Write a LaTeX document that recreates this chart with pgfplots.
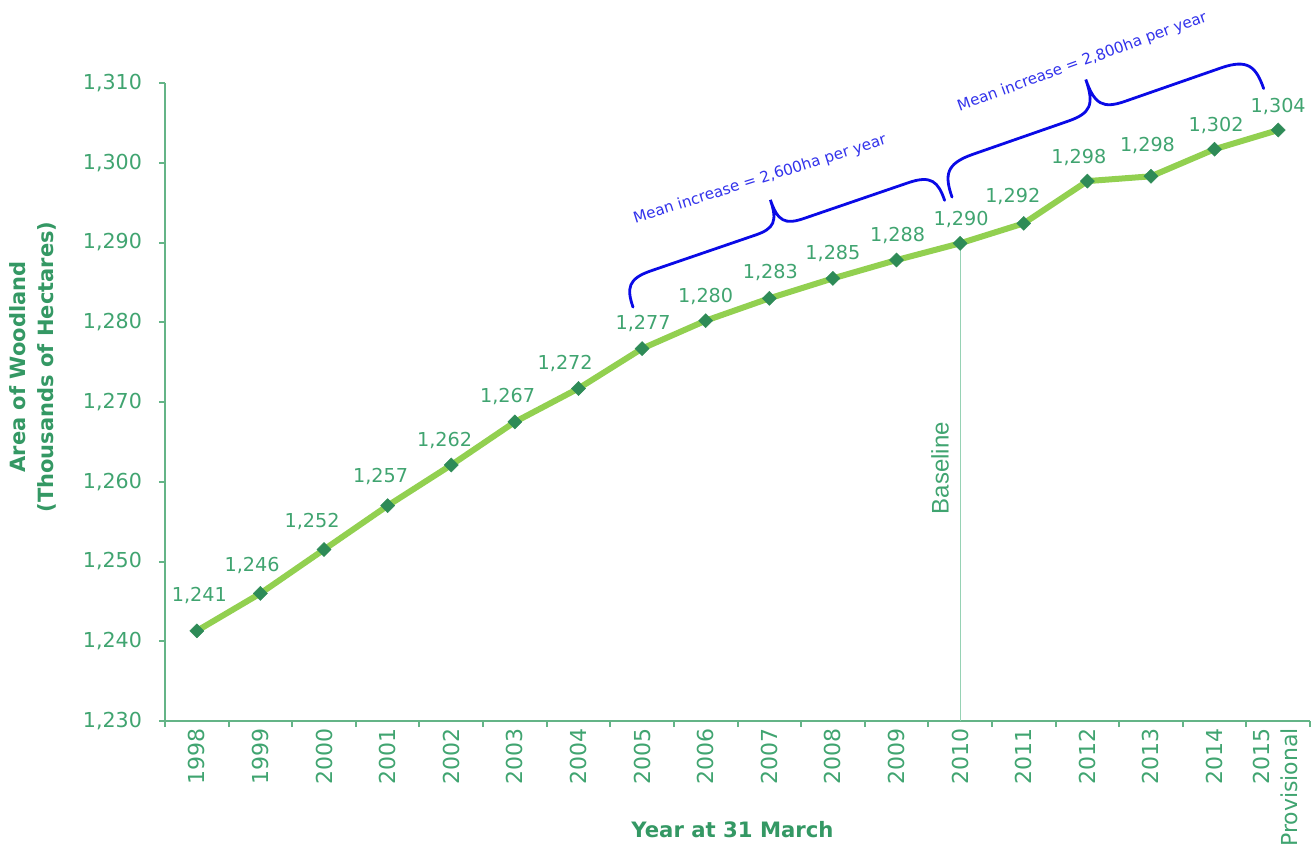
\documentclass[border=0pt]{standalone}
\usepackage{pgfplots}
\pgfplotsset{compat=1.18}
\usepackage{pgfplotstable}
\usepackage{fontspec}
\setmainfont{DejaVu Sans}
\newfontfamily\arialfont{Liberation Sans}
\definecolor{linegreen}{RGB}{146,208,80}
\definecolor{markgreen}{RGB}{46,139,87}
\definecolor{txtgreen}{RGB}{64,164,112}
\definecolor{titlegreen}{RGB}{52,152,100}
\definecolor{axisgreen}{RGB}{100,180,135}
\definecolor{basegreen}{RGB}{150,210,180}
\definecolor{braceblue}{RGB}{10,10,230}
\definecolor{textblue}{RGB}{50,50,235}

\pgfplotstableread{
x y lab dx dy
0 1241.3 1,241 1.25 17.85
1 1246.0 1,246 -4.15 13.75
2 1251.5 1,252 -6 14
3 1257.0 1,257 -3.5 14.5
4 1262.1 1,262 -3.35 12.15
5 1267.5 1,267 -3.65 12.5
6 1271.7 1,272 -6.65 12.5
7 1276.7 1,277 0.5 12.35
8 1280.2 1,280 0 12
9 1283.0 1,283 0.5 13
10 1285.5 1,285 0 12.5
11 1287.8 1,288 0.5 12.5
12 1289.9 1,290 0.5 12
13 1292.4 1,292 -5.5 13.5
14 1297.7 1,298 -4.25 12
15 1298.3 1,298 -1.75 15.5
16 1301.7 1,302 0.75 12
17 1304.1 1,304 0 12
}\woodland

\begin{document}
\begin{tikzpicture}
\path[use as bounding box] (-82.5pt,-65.5pt) rectangle (575pt,360.5pt);
\begin{axis}[
  at={(0,0)}, anchor=south west,
  scale only axis, width=572.5pt, height=319pt,
  xmin=-0.5, xmax=17.5, ymin=1230, ymax=1310,
  clip=false,
  axis x line*=bottom, axis y line*=left,
  axis line style={axisgreen, line width=1pt},
  tick align=outside,
  major tick length=0pt,
  minor tick length=3pt,
  tick style={axisgreen, line width=1pt},
  xtick={0,...,17},
  xticklabels={1998,1999,2000,2001,2002,2003,2004,2005,2006,2007,2008,2009,2010,2011,2012,2013,2014,{\begin{tabular}{@{}r@{}}2015\\Provisional\end{tabular}}},
  minor xtick={-0.5,0.5,...,17.5},
  ytick={1230,1240,...,1310},
  yticklabels={{1,230},{1,240},{1,250},{1,260},{1,270},{1,280},{1,290},{1,300},{1,310}},
  minor ytick={1230,1240,...,1310},
  xticklabel style={rotate=90, anchor=east,
    font=\fontsize{11}{14}\selectfont, text=txtgreen},
  yticklabel style={xshift=-8pt, font=\fontsize{10.3}{12}\selectfont, text=txtgreen},
]
\addplot[basegreen, line width=0.6pt, forget plot] coordinates {(12,1230) (12,1289.9)};

\addplot[linegreen, line width=3pt,
  mark=square*, mark size=2.5pt,
  mark options={rotate=45, draw=markgreen, fill=markgreen, line width=0.2pt},
  nodes near coords, point meta=explicit symbolic,
  visualization depends on={\thisrow{dx} \as \labdx},
  visualization depends on={\thisrow{dy} \as \labdy},
  every node near coord/.append style={anchor=center, xshift=\labdx pt, yshift=\labdy pt,
    font=\fontsize{9.6}{11}\selectfont, text=txtgreen},
] table[x=x, y=y, meta=lab] {\woodland};

\coordinate (b1) at (axis cs:6.857,1281.9);
\coordinate (b2) at (axis cs:11.872,1295.7);

\node[rotate=17.5, text=textblue, font=\fontsize{7.6}{9}\selectfont]
  at (axis cs:8.854,1297.9) {Mean increase = 2,600ha per year};
\node[rotate=20, text=textblue, font=\fontsize{7.6}{9}\selectfont]
  at (axis cs:13.92,1312.6) {Mean increase = 2,800ha per year};

\node[rotate=90, text=txtgreen, font=\arialfont\fontsize{12}{14}\selectfont]
  at (axis cs:11.684,1261.7) {Baseline};

\node[rotate=90, align=center, text=titlegreen, font=\bfseries\fontsize{10.5}{14}\selectfont]
  at ([xshift=-66pt]rel axis cs:0,0.555) {Area of Woodland\\(Thousands of Hectares)};
\node[text=titlegreen, font=\bfseries\fontsize{10.6}{13}\selectfont]
  at ([yshift=-54.5pt]rel axis cs:0.4956,0) {Year at 31 March};
\end{axis}

% braces (annotation), drawn in a rotated local frame, units in pt
\begin{scope}[shift={(b1)}, rotate=18.9, x=1pt, y=1pt]
  \def\L{164.7}\def\A{28.5}
  \draw[braceblue, line width=1.4pt, line cap=round]
   (0,0) .. controls (0,{0.35*\A}) and ({0.08*\A},{0.5*\A}) .. ({0.5*\A},{0.5*\A})
   -- ({\L/2-0.45*\A},{0.5*\A})
   .. controls ({\L/2-0.1*\A},{0.5*\A}) and ({\L/2},{0.6*\A}) .. ({\L/2},{\A})
   .. controls ({\L/2},{0.6*\A}) and ({\L/2+0.1*\A},{0.5*\A}) .. ({\L/2+0.45*\A},{0.5*\A})
   -- ({\L-0.5*\A},{0.5*\A})
   .. controls ({\L-0.08*\A},{0.5*\A}) and ({\L},{0.35*\A}) .. ({\L},0);
\end{scope}
\begin{scope}[shift={(b2)}, rotate=19.2, x=1pt, y=1pt]
  \def\L{165}\def\A{33.5}
  \draw[braceblue, line width=1.4pt, line cap=round]
   (0,0) .. controls (0,{0.35*\A}) and ({0.08*\A},{0.5*\A}) .. ({0.5*\A},{0.5*\A})
   -- ({\L/2-0.45*\A},{0.5*\A})
   .. controls ({\L/2-0.1*\A},{0.5*\A}) and ({\L/2},{0.6*\A}) .. ({\L/2},{\A})
   .. controls ({\L/2},{0.6*\A}) and ({\L/2+0.1*\A},{0.5*\A}) .. ({\L/2+0.45*\A},{0.5*\A})
   -- ({\L-0.5*\A},{0.5*\A})
   .. controls ({\L-0.08*\A},{0.5*\A}) and ({\L},{0.35*\A}) .. ({\L},0);
\end{scope}
\end{tikzpicture}
\end{document}
